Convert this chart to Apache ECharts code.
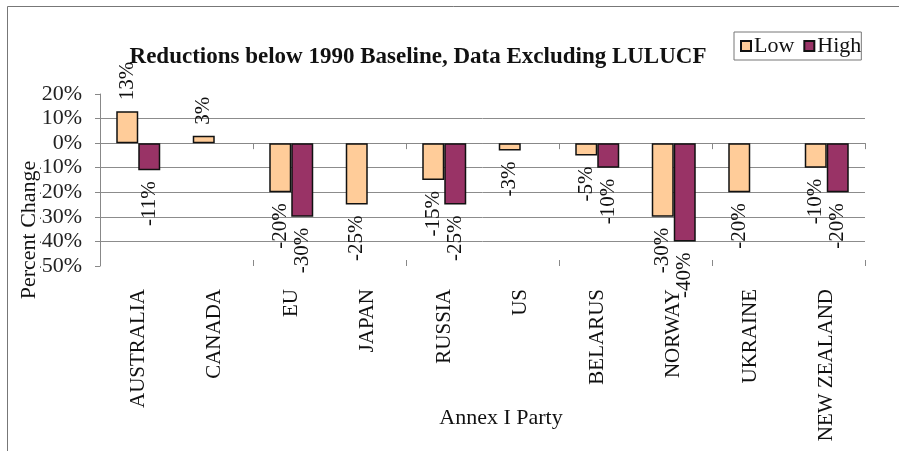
<!DOCTYPE html>
<html>
<head>
<meta charset="utf-8">
<script src="https://cdn.jsdelivr.net/npm/echarts@6/dist/echarts.min.js"></script>
<style>
html,body{margin:0;padding:0;background:#fff;}
#chart{width:899px;height:451px;}
</style>
</head>
<body>
<div id="chart"></div>
<script>
var categories = ['AUSTRALIA','CANADA','EU','JAPAN','RUSSIA','US','BELARUS','NORWAY','UKRAINE','NEW ZEALAND'];
var lowValues  = [13, 3, -20, -25, -15, -3, -5, -30, -20, -10];
var highValues = [-11, null, -30, null, -25, null, -10, -40, null, -20];
var yTicks = {min: -50, max: 20, interval: 10};

var FONT = '"Liberation Serif", "Times New Roman", serif';

function makeData(arr) {
  return arr.map(function (v) {
    if (v === null) return null;
    var neg = v < 0;
    return {
      value: v,
      label: {
        position: neg ? 'bottom' : 'top',
        align: neg ? 'right' : 'left'
      }
    };
  });
}

var labelCfg = {
  show: true,
  rotate: 90,
  verticalAlign: 'middle',
  distance: 11,
  fontFamily: FONT,
  fontSize: 21,
  color: '#111',
  formatter: function (p) { return p.value + '%'; }
};

var chart = echarts.init(document.getElementById('chart'));
chart.setOption({
  animation: false,
  backgroundColor: '#fff',
  title: {
    text: 'Reductions below 1990 Baseline, Data Excluding LULUCF',
    left: 413, top: 41, textAlign: 'center',
    textStyle: {fontFamily: FONT, fontWeight: 'bold', fontSize: 23, color: '#111'}
  },
  legend: {
    left: 734, top: 32,
    itemWidth: 10, itemHeight: 10, itemGap: 9,
    padding: [3, 0, 3, 6],
    borderColor: '#777', borderWidth: 1,
    icon: 'rect',
    textStyle: {fontFamily: FONT, fontSize: 22, color: '#111', padding: [0, 0, 0, -2]},
    data: ['Low', 'High']
  },
  grid: {left: 100, right: 34, top: 94, bottom: 185, containLabel: false},
  xAxis: [
    {
      type: 'category', data: categories, position: 'bottom',
      axisLine: {show: false, onZero: false}, axisTick: {show: false},
      axisLabel: {rotate: 90, margin: 23, fontFamily: FONT, fontSize: 21, color: '#111', interval: 0}
    },
    {
      type: 'category', data: categories, position: 'bottom',
      axisLine: {show: true, onZero: true, lineStyle: {color: '#888', width: 1}},
      axisTick: {show: true, length: 6, lineStyle: {color: '#888'}},
      axisLabel: {show: false}
    },
    {
      type: 'category', data: categories, position: 'bottom',
      axisLine: {show: false, onZero: true},
      axisTick: {show: true, inside: true, length: 6, lineStyle: {color: '#888'}},
      axisLabel: {show: false}
    }
  ],
  yAxis: {
    type: 'value', min: yTicks.min, max: yTicks.max, interval: yTicks.interval,
    axisLine: {show: true, lineStyle: {color: '#888'}},
    axisTick: {show: true, length: 5, lineStyle: {color: '#888'}},
    axisLabel: {fontFamily: FONT, fontSize: 22, color: '#222', margin: 18, formatter: '{value}%'},
    splitLine: {show: true, showMinLine: false, showMaxLine: false, lineStyle: {color: '#8c8c8c', width: 1}}
  },
  series: [
    {
      name: 'Low', type: 'bar', xAxisIndex: 0, barWidth: 22, barGap: '0%',
      itemStyle: {color: '#FFCC99', borderColor: '#111', borderWidth: 1.5},
      label: labelCfg,
      data: makeData(lowValues)
    },
    {
      name: 'High', type: 'bar', xAxisIndex: 0, barWidth: 22, barGap: '0%',
      itemStyle: {color: '#993366', borderColor: '#111', borderWidth: 1.5},
      label: labelCfg,
      data: makeData(highValues)
    }
  ],
  graphic: [
    {
      type: 'rect', silent: true, z: -1,
      shape: {x: 7.5, y: 6.5, width: 1000, height: 1000},
      style: {fill: 'none', stroke: '#777', lineWidth: 1}
    },
    {
      type: 'text', x: 29, y: 230, rotation: Math.PI / 2, z: 10,
      style: {
        text: 'Percent Change', fontFamily: FONT, fontSize: 22, fill: '#111',
        align: 'center', verticalAlign: 'middle', backgroundColor: '#fff', padding: [0, 1]
      }
    },
    {
      type: 'text', x: 501, y: 418, z: 10,
      style: {
        text: 'Annex I Party', fontFamily: FONT, fontSize: 22, fill: '#111',
        align: 'center', verticalAlign: 'middle'
      }
    }
  ]
});
</script>
</body>
</html>
